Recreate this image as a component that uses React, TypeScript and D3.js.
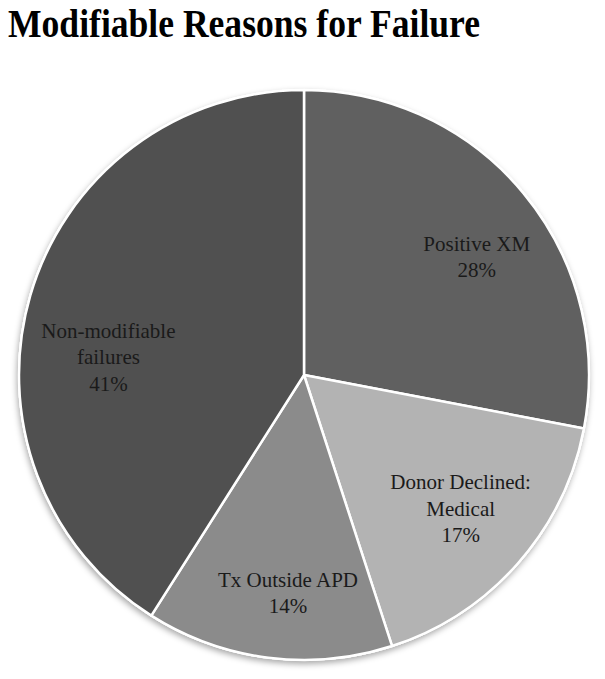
import { useEffect, useRef } from "react";
import * as d3 from "d3";

const categories = ["Positive XM", "Donor Declined: Medical", "Tx Outside APD", "Non-modifiable failures"];
const labelLines = [
  ["Positive XM"],
  ["Donor Declined:", "Medical"],
  ["Tx Outside APD"],
  ["Non-modifiable", "failures"],
];
const values = [28, 17, 14, 41];
const colors = ["#606060", "#b3b3b3", "#8b8b8b", "#505050"];
// label nudges away from the arc centroid (layout only)
const labelNudge = [
  [19, 9],
  [7, 2],
  [9, 20],
  [-4, 38],
];

function App() {
  const ref = useRef<SVGSVGElement>(null);

  useEffect(() => {
    const svg = d3.select(ref.current);
    svg.selectAll("*").remove();

    const width = 605;
    const height = 679;
    const cx = 304;
    const cy = 375;
    const r = 285;

    const defs = svg.append("defs");
    const f = defs
      .append("filter")
      .attr("id", "shadow")
      .attr("x", "-10%")
      .attr("y", "-10%")
      .attr("width", "120%")
      .attr("height", "120%");
    f.append("feDropShadow")
      .attr("dx", -1)
      .attr("dy", 3)
      .attr("stdDeviation", 3)
      .attr("flood-color", "#000")
      .attr("flood-opacity", 0.35);

    svg
      .append("rect")
      .attr("width", width)
      .attr("height", height)
      .attr("fill", "#fff");

    svg
      .append("text")
      .attr("x", 8)
      .attr("y", 37)
      .attr("font-family", "'Liberation Serif', 'DejaVu Serif', serif")
      .attr("font-weight", "bold")
      .attr("font-size", 39)
      .attr("textLength", 472)
      .attr("lengthAdjust", "spacingAndGlyphs")
      .attr("fill", "#000")
      .text("Modifiable Reasons for Failure");

    const pie = d3
      .pie<number>()
      .sort(null)
      .value((d) => d);
    const arcs = pie(values);
    const arc = d3.arc<d3.PieArcDatum<number>>().innerRadius(0).outerRadius(r);
    const labelArc = d3
      .arc<d3.PieArcDatum<number>>()
      .innerRadius(r * 0.7)
      .outerRadius(r * 0.7);

    const g = svg.append("g").attr("transform", `translate(${cx},${cy})`);

    g.append("circle").attr("r", r + 1).attr("fill", "#fff").attr("filter", "url(#shadow)");

    g.selectAll("path.slice")
      .data(arcs)
      .join("path")
      .attr("class", "slice")
      .attr("d", arc)
      .attr("fill", (_, i) => colors[i])
      .attr("stroke", "#fff")
      .attr("stroke-width", 2.5)
      .attr("stroke-linejoin", "round");

    const lineH = 26.5;
    arcs.forEach((a, i) => {
      const [x, y] = labelArc.centroid(a);
      const lines = [...labelLines[i], `${values[i]}%`];
      const tx = x + labelNudge[i][0];
      const ty = y + labelNudge[i][1];
      const t = g
        .append("text")
        .attr("text-anchor", "middle")
        .attr("font-family", "'Liberation Serif', 'DejaVu Serif', serif")
        .attr("font-size", 21)
        .attr("fill", "#1a1a1a")
        .attr("aria-label", categories[i]);
      lines.forEach((ln, j) => {
        t.append("tspan")
          .attr("x", tx)
          .attr("y", ty + (j - (lines.length - 1) / 2) * lineH + 7)
          .text(ln);
      });
    });
  }, []);

  return (
    <svg
      ref={ref}
      width="605"
      height="679"
      style={{ position: "absolute", left: 0, top: 0 }}
    ></svg>
  );
}

export default App;
